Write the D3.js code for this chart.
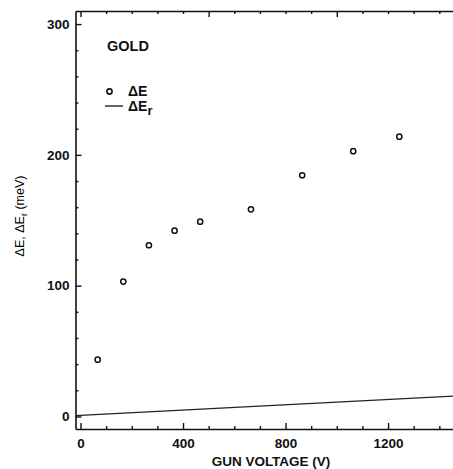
<!DOCTYPE html>
<html>
<head>
<meta charset="utf-8">
<script src="https://cdn.jsdelivr.net/npm/d3@7"></script>
<style>
  body { margin: 0; background: #fff; }
  svg text { font-family: "Liberation Sans", Arial, sans-serif; fill: #111; }
</style>
</head>
<body>
<div id="chart"></div>
<script>
var gunVoltage = [67, 167, 267, 367, 467, 665, 865, 1064, 1244];
var deltaE = [43.4, 103.1, 130.9, 142.0, 148.9, 158.4, 184.4, 202.8, 213.9];

// delta E_r straight line, end points
var lineVoltage = [-20, 1460];
var deltaEr = [0.6, 15.6];

var xMajor = [0, 400, 800, 1200];
var yMajor = [0, 100, 200, 300];

var width = 453, height = 469;

var svg = d3.select("#chart").append("svg")
    .attr("width", width)
    .attr("height", height);

var x = d3.scaleLinear().domain([-19.5, 1460]).range([75.5, 454.7]);
var y = d3.scaleLinear().domain([-9.6, 310]).range([429, 11]);

var xMinor = d3.range(0, 1500, 100).filter(function(d) { return xMajor.indexOf(d) < 0; });
var yMinor = d3.range(0, 310, 20).filter(function(d) { return yMajor.indexOf(d) < 0; });

// left axis
var gLeft = svg.append("g").attr("transform", "translate(" + x.range()[0] + ",0)");
gLeft.call(d3.axisLeft(y).tickValues(yMajor).tickSize(-6).tickSizeOuter(0).tickPadding(6).tickFormat(d3.format("d")));
gLeft.append("g").call(d3.axisLeft(y).tickValues(yMinor).tickSize(-3).tickFormat(""))
    .select(".domain").remove();

// bottom axis
var gBottom = svg.append("g").attr("transform", "translate(0," + y.range()[0] + ")");
gBottom.call(d3.axisBottom(x).tickValues(xMajor).tickSize(-6).tickSizeOuter(0).tickPadding(9).tickFormat(d3.format("d")));
gBottom.append("g").call(d3.axisBottom(x).tickValues(xMinor).tickSize(-3).tickFormat(""))
    .select(".domain").remove();

// top frame
var gTop = svg.append("g").attr("transform", "translate(0," + y.range()[1] + ")");
gTop.call(d3.axisTop(x).tickValues([0, 500, 1000]).tickSize(-6).tickSizeOuter(0).tickFormat(""));
gTop.append("g").call(d3.axisTop(x).tickValues(d3.range(100, 1500, 100).filter(function(d) { return d % 500; })).tickSize(-3).tickFormat(""))
    .select(".domain").remove();

svg.selectAll(".domain").attr("stroke", "#111").attr("stroke-width", 1.6);
svg.selectAll(".tick line").attr("stroke", "#111").attr("stroke-width", 1.4);
svg.selectAll(".tick text")
    .style("font-size", "13.5px")
    .style("font-weight", "bold")
    .attr("fill", "#111");

// delta E_r line
var line = d3.line()
    .x(function(d) { return x(d[0]); })
    .y(function(d) { return y(d[1]); });

svg.append("path")
    .datum(d3.zip(lineVoltage, deltaEr))
    .attr("d", line)
    .attr("fill", "none")
    .attr("stroke", "#222")
    .attr("stroke-width", 1.3);

// delta E points
svg.selectAll("circle.pt")
    .data(d3.zip(gunVoltage, deltaE))
    .enter()
    .append("circle")
    .attr("class", "pt")
    .attr("cx", function(d) { return x(d[0]); })
    .attr("cy", function(d) { return y(d[1]); })
    .attr("r", 2.6)
    .attr("fill", "#fff")
    .attr("stroke", "#111")
    .attr("stroke-width", 1.5);

// labels
svg.append("text")
    .attr("x", 271)
    .attr("y", 466)
    .attr("text-anchor", "middle")
    .style("font-size", "13.5px")
    .style("font-weight", "bold")
    .text("GUN VOLTAGE (V)");

var yl = svg.append("text")
    .attr("transform", "translate(24,216) rotate(-90)")
    .attr("text-anchor", "middle")
    .style("font-size", "12.5px")
    .style("fill", "#000");
yl.append("tspan").text("\u0394E, \u0394E");
yl.append("tspan").attr("dy", 3).style("font-size", "9px").text("r");
yl.append("tspan").attr("dy", -3).text(" (meV)");

// legend
svg.append("text")
    .attr("x", 107)
    .attr("y", 51)
    .style("font-size", "14.5px")
    .style("font-weight", "bold")
    .text("GOLD");

svg.append("circle")
    .attr("cx", 109.5)
    .attr("cy", 91.5)
    .attr("r", 2.6)
    .attr("fill", "#fff")
    .attr("stroke", "#111")
    .attr("stroke-width", 1.6);

svg.append("text")
    .attr("x", 128)
    .attr("y", 96)
    .style("font-size", "14px")
    .style("font-weight", "bold")
    .text("\u0394E");

svg.append("line")
    .attr("x1", 105).attr("x2", 123)
    .attr("y1", 106).attr("y2", 106)
    .attr("stroke", "#111")
    .attr("stroke-width", 1.3);

var lg = svg.append("text")
    .attr("x", 128)
    .attr("y", 111)
    .style("font-size", "14px")
    .style("font-weight", "bold");
lg.append("tspan").text("\u0394E");
lg.append("tspan").attr("dy", 4).style("font-size", "13px").text("r");
</script>
</body>
</html>
